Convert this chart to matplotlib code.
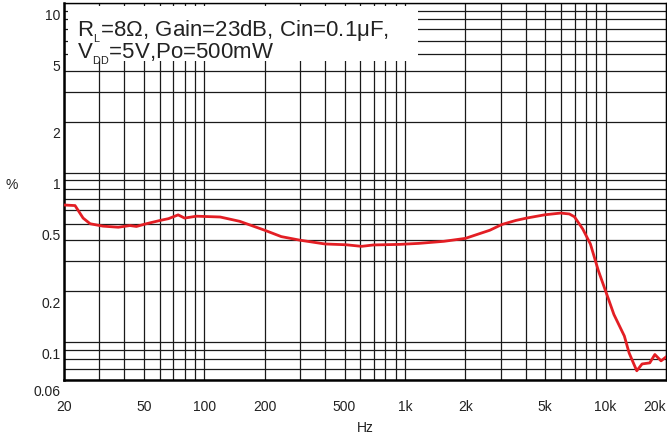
import numpy as np
import matplotlib
matplotlib.use("Agg")
import matplotlib.pyplot as plt
from matplotlib.patches import Rectangle
from matplotlib.transforms import ScaledTranslation

# --- data (THD+N vs frequency) ---
freq_hz = [20, 22.7, 24.9, 27, 31.3, 37.3, 42.6, 45.9, 51.4, 60.2, 66.4, 74.1, 79.8,
           91.5, 120, 150, 200, 242, 300, 400, 509, 608, 697, 944, 1170, 1565,
           2000, 2650, 3040, 3570, 4040, 4990, 5970, 6600, 6990, 7700, 8400, 9200,
           10200, 11000, 12400, 13100, 13600, 14300, 15200, 16600, 17600, 18900, 20000]
thd_pct = [0.645, 0.64, 0.54, 0.50, 0.484, 0.477, 0.488, 0.482, 0.50, 0.523, 0.536, 0.564, 0.54,
           0.554, 0.548, 0.517, 0.458, 0.42, 0.40, 0.38, 0.376, 0.368, 0.375, 0.378, 0.383, 0.394,
           0.41, 0.458, 0.495, 0.523, 0.54, 0.565, 0.578, 0.571, 0.55, 0.465, 0.38, 0.265,
           0.188, 0.146, 0.109, 0.0866, 0.078, 0.068, 0.0746, 0.0757, 0.0848, 0.0778, 0.082]

x_ticks = [20, 50, 100, 200, 500, 1000, 2000, 5000, 10000, 20000]
x_labels = ["20", "50", "100", "200", "500", "1k", "2k", "5k", "10k", "20k"]
y_ticks = [0.06, 0.1, 0.2, 0.5, 1, 2, 5, 10]
y_labels = ["0.06", "0.1", "0.2", "0.5", "1", "2", "5", "10"]

plt.rcParams["font.family"] = ["Liberation Sans", "DejaVu Sans"]
plt.rcParams["mathtext.fontset"] = "custom"
plt.rcParams["mathtext.rm"] = "Liberation Sans"

W, H = 667, 439
fig = plt.figure(figsize=(W / 100, H / 100), dpi=100)
ax = fig.add_axes([64 / W, (H - 381) / H, 602 / W, 377 / H])

ax.plot(freq_hz, thd_pct, color="#e31e24", lw=2.0, zorder=3, solid_joinstyle="round")

ax.set_xscale("log")
ax.set_yscale("log")
ax.set_xlim(20, 20000)
ax.set_ylim(0.06, 10)

# grid = every 1..9 of each decade
x_grid = [m * 10 ** e for e in range(1, 5) for m in range(1, 10)]
x_grid = [v for v in x_grid if 20 <= v <= 20000]
y_grid = [m * 10 ** e for e in range(-2, 2) for m in range(1, 10)]
y_grid = [v for v in y_grid if 0.06 <= v <= 10]

ax.set_xticks(x_ticks)
ax.set_xticklabels(x_labels)
ax.set_xticks(x_grid, minor=True)
ax.set_yticks(y_ticks)
ax.set_yticklabels(y_labels)
ax.set_yticks(y_grid, minor=True)
ax.tick_params(which="both", length=0)
ax.tick_params(axis="x", labelsize=10, pad=13.5, colors="#222222")
ax.tick_params(axis="y", labelsize=10, pad=2.5, colors="#222222")
ax.set_axisbelow(True)
ax.grid(which="both", color="#1a1a1a", lw=0.9)

for side in ["left", "bottom"]:
    ax.spines[side].set_linewidth(1.8)
for side in ["top", "right"]:
    ax.spines[side].set_linewidth(1.0)

# y labels sit a bit below their lines in the reference
shift = ScaledTranslation(0, -0.10, fig.dpi_scale_trans)
for lbl in ax.get_yticklabels():
    lbl.set_transform(lbl.get_transform() + shift)
ax.get_xticklabels()[-1].set_ha("right")

ax.set_xlabel("Hz", fontsize=10, color="#222222", va="center")
ax.xaxis.set_label_coords(0.5, -0.125)
ax.set_ylabel("%", fontsize=10, color="#222222", rotation=0, va="center", ha="center")
ax.yaxis.set_label_coords(-0.0864, 0.52)

# white box behind the conditions text
ax.add_patch(Rectangle((0.0066, 0.846), 0.582, 0.146, transform=ax.transAxes,
                       facecolor="white", edgecolor="none", zorder=1))
cond = (r"$\mathregular{R_{{}_L}}$=8Ω, Gain=23dB, Cin=0.1μF," "\n"
        r"$\mathregular{V_{{}_{DD}}}$=5V,Po=500mW")
ax.text(0.0216, 0.8554, cond, transform=ax.transAxes, fontsize=16, va="baseline",
        linespacing=0.8, color="#222222", zorder=4)

fig.savefig("out.png", dpi=100)
